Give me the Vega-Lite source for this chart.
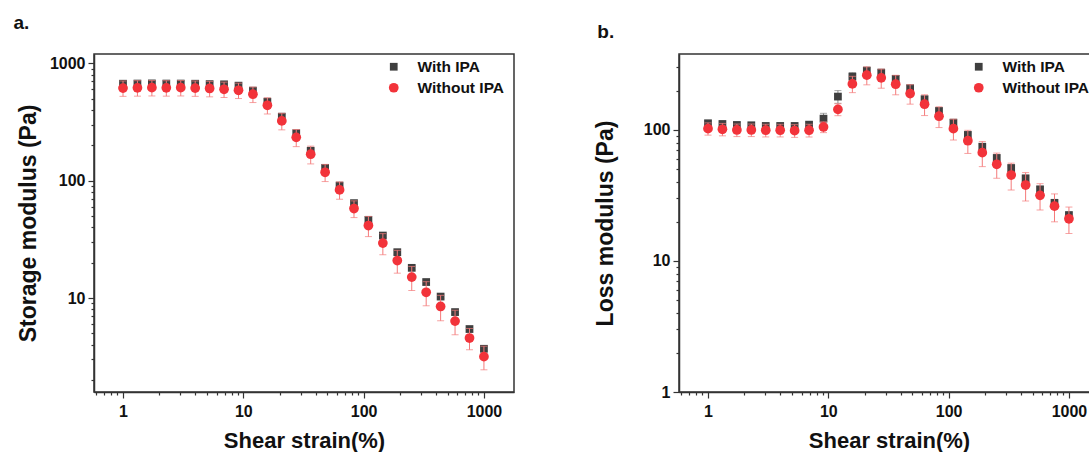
{
  "$schema": "https://vega.github.io/schema/vega-lite/v6.json",
  "padding": {"left": 12, "top": 13, "right": 0, "bottom": 0},
  "config": {
    "font": "Liberation Sans",
    "view": {"stroke": "#333", "strokeWidth": 1.5},
    "axis": {
      "grid": false, "domainColor": "#333", "domainWidth": 1.5, "tickColor": "#333", "tickWidth": 1.2,
      "labelFont": "Liberation Sans", "labelFontWeight": "bold", "labelFontSize": 16, "labelColor": "#111",
      "titleFont": "Liberation Sans", "titleFontWeight": "bold", "titleFontSize": 22, "titleColor": "#111",
      "labelFlush": false, "labelOverlap": false
    },
    "legend": {
      "labelFont": "Liberation Sans", "labelFontWeight": "bold", "labelFontSize": 15.5, "labelColor": "#111",
      "padding": 0, "rowPadding": 4, "labelOffset": 16, "symbolStrokeWidth": 0
    },
    "title": {"font": "Liberation Sans", "fontSize": 19, "fontWeight": "bold", "anchor": "start", "color": "#111", "offset": 21}
  },
  "datasets": {
    "storage": [
      {"strain": 1, "series": "With IPA", "modulus": 670, "err": 27},
      {"strain": 1.318, "series": "With IPA", "modulus": 672, "err": 27},
      {"strain": 1.738, "series": "With IPA", "modulus": 674, "err": 27},
      {"strain": 2.291, "series": "With IPA", "modulus": 672, "err": 27},
      {"strain": 3.02, "series": "With IPA", "modulus": 672, "err": 27},
      {"strain": 3.981, "series": "With IPA", "modulus": 670, "err": 27},
      {"strain": 5.248, "series": "With IPA", "modulus": 665, "err": 27},
      {"strain": 6.918, "series": "With IPA", "modulus": 662, "err": 26},
      {"strain": 9.12, "series": "With IPA", "modulus": 645, "err": 26},
      {"strain": 12.02, "series": "With IPA", "modulus": 585, "err": 23},
      {"strain": 15.85, "series": "With IPA", "modulus": 471, "err": 19},
      {"strain": 20.89, "series": "With IPA", "modulus": 351, "err": 14},
      {"strain": 27.54, "series": "With IPA", "modulus": 254, "err": 10},
      {"strain": 36.31, "series": "With IPA", "modulus": 180, "err": 7},
      {"strain": 47.86, "series": "With IPA", "modulus": 128.5, "err": 5},
      {"strain": 63.1, "series": "With IPA", "modulus": 90.9, "err": 3.6},
      {"strain": 83.18, "series": "With IPA", "modulus": 64.4, "err": 2.6},
      {"strain": 109.6, "series": "With IPA", "modulus": 46.4, "err": 1.9},
      {"strain": 144.5, "series": "With IPA", "modulus": 34.1, "err": 1.4},
      {"strain": 190.5, "series": "With IPA", "modulus": 24.6, "err": 1.0},
      {"strain": 251.2, "series": "With IPA", "modulus": 18.1, "err": 0.7},
      {"strain": 331.1, "series": "With IPA", "modulus": 13.7, "err": 0.55},
      {"strain": 436.5, "series": "With IPA", "modulus": 10.3, "err": 0.4},
      {"strain": 575.4, "series": "With IPA", "modulus": 7.6, "err": 0.3},
      {"strain": 758.6, "series": "With IPA", "modulus": 5.45, "err": 0.22},
      {"strain": 1000, "series": "With IPA", "modulus": 3.7, "err": 0.15},
      {"strain": 1, "series": "Without IPA", "modulus": 615, "err": 92},
      {"strain": 1.318, "series": "Without IPA", "modulus": 618, "err": 93},
      {"strain": 1.738, "series": "Without IPA", "modulus": 620, "err": 93},
      {"strain": 2.291, "series": "Without IPA", "modulus": 618, "err": 93},
      {"strain": 3.02, "series": "Without IPA", "modulus": 620, "err": 93},
      {"strain": 3.981, "series": "Without IPA", "modulus": 615, "err": 92},
      {"strain": 5.248, "series": "Without IPA", "modulus": 610, "err": 92},
      {"strain": 6.918, "series": "Without IPA", "modulus": 601, "err": 90},
      {"strain": 9.12, "series": "Without IPA", "modulus": 589, "err": 88},
      {"strain": 12.02, "series": "Without IPA", "modulus": 545, "err": 82},
      {"strain": 15.85, "series": "Without IPA", "modulus": 439, "err": 69},
      {"strain": 20.89, "series": "Without IPA", "modulus": 323, "err": 52},
      {"strain": 27.54, "series": "Without IPA", "modulus": 234, "err": 39},
      {"strain": 36.31, "series": "Without IPA", "modulus": 168, "err": 29},
      {"strain": 47.86, "series": "Without IPA", "modulus": 118, "err": 19.7},
      {"strain": 63.1, "series": "Without IPA", "modulus": 83.5, "err": 14},
      {"strain": 83.18, "series": "Without IPA", "modulus": 57.9, "err": 9.4},
      {"strain": 109.6, "series": "Without IPA", "modulus": 41.5, "err": 8.1},
      {"strain": 144.5, "series": "Without IPA", "modulus": 29.4, "err": 6.0},
      {"strain": 190.5, "series": "Without IPA", "modulus": 20.9, "err": 4.6},
      {"strain": 251.2, "series": "Without IPA", "modulus": 15.1, "err": 3.5},
      {"strain": 331.1, "series": "Without IPA", "modulus": 11.2, "err": 2.6},
      {"strain": 436.5, "series": "Without IPA", "modulus": 8.48, "err": 2.07},
      {"strain": 575.4, "series": "Without IPA", "modulus": 6.37, "err": 1.5},
      {"strain": 758.6, "series": "Without IPA", "modulus": 4.57, "err": 0.94},
      {"strain": 1000, "series": "Without IPA", "modulus": 3.17, "err": 0.72}
    ],
    "loss": [
      {"strain": 1, "series": "With IPA", "modulus": 112.5, "err": 5},
      {"strain": 1.318, "series": "With IPA", "modulus": 111.1, "err": 5},
      {"strain": 1.738, "series": "With IPA", "modulus": 109.2, "err": 5},
      {"strain": 2.291, "series": "With IPA", "modulus": 108.6, "err": 5},
      {"strain": 3.02, "series": "With IPA", "modulus": 107.3, "err": 5},
      {"strain": 3.981, "series": "With IPA", "modulus": 107.3, "err": 5},
      {"strain": 5.248, "series": "With IPA", "modulus": 107.3, "err": 5},
      {"strain": 6.918, "series": "With IPA", "modulus": 109.8, "err": 5},
      {"strain": 9.12, "series": "With IPA", "modulus": 122, "err": 12},
      {"strain": 12.02, "series": "With IPA", "modulus": 179.8, "err": 20},
      {"strain": 15.85, "series": "With IPA", "modulus": 255.6, "err": 18},
      {"strain": 20.89, "series": "With IPA", "modulus": 284, "err": 14},
      {"strain": 27.54, "series": "With IPA", "modulus": 274, "err": 13},
      {"strain": 36.31, "series": "With IPA", "modulus": 245.5, "err": 12},
      {"strain": 47.86, "series": "With IPA", "modulus": 208.4, "err": 10},
      {"strain": 63.1, "series": "With IPA", "modulus": 171.7, "err": 9},
      {"strain": 83.18, "series": "With IPA", "modulus": 139.7, "err": 7},
      {"strain": 109.6, "series": "With IPA", "modulus": 113.7, "err": 6},
      {"strain": 144.5, "series": "With IPA", "modulus": 91.6, "err": 5},
      {"strain": 190.5, "series": "With IPA", "modulus": 74.5, "err": 4},
      {"strain": 251.2, "series": "With IPA", "modulus": 61.1, "err": 3.5},
      {"strain": 331.1, "series": "With IPA", "modulus": 51.2, "err": 3},
      {"strain": 436.5, "series": "With IPA", "modulus": 42.7, "err": 2.5},
      {"strain": 575.4, "series": "With IPA", "modulus": 35.2, "err": 2},
      {"strain": 758.6, "series": "With IPA", "modulus": 27.8, "err": 1.6},
      {"strain": 1000, "series": "With IPA", "modulus": 22.4, "err": 1.3},
      {"strain": 1, "series": "Without IPA", "modulus": 102.3, "err": 11},
      {"strain": 1.318, "series": "Without IPA", "modulus": 101.2, "err": 11},
      {"strain": 1.738, "series": "Without IPA", "modulus": 100, "err": 11},
      {"strain": 2.291, "series": "Without IPA", "modulus": 100, "err": 11},
      {"strain": 3.02, "series": "Without IPA", "modulus": 99.5, "err": 11},
      {"strain": 3.981, "series": "Without IPA", "modulus": 99.5, "err": 11},
      {"strain": 5.248, "series": "Without IPA", "modulus": 98.8, "err": 11},
      {"strain": 6.918, "series": "Without IPA", "modulus": 99.5, "err": 11},
      {"strain": 9.12, "series": "Without IPA", "modulus": 105.4, "err": 10},
      {"strain": 12.02, "series": "Without IPA", "modulus": 143.5, "err": 15},
      {"strain": 15.85, "series": "Without IPA", "modulus": 224.7, "err": 32},
      {"strain": 20.89, "series": "Without IPA", "modulus": 262, "err": 41},
      {"strain": 27.54, "series": "Without IPA", "modulus": 249.8, "err": 41.5},
      {"strain": 36.31, "series": "Without IPA", "modulus": 223.5, "err": 38},
      {"strain": 47.86, "series": "Without IPA", "modulus": 189.4, "err": 32},
      {"strain": 63.1, "series": "Without IPA", "modulus": 157.2, "err": 28.4},
      {"strain": 83.18, "series": "Without IPA", "modulus": 127.3, "err": 23},
      {"strain": 109.6, "series": "Without IPA", "modulus": 102.3, "err": 18.5},
      {"strain": 144.5, "series": "Without IPA", "modulus": 82.8, "err": 16.6},
      {"strain": 190.5, "series": "Without IPA", "modulus": 67.1, "err": 14.6},
      {"strain": 251.2, "series": "Without IPA", "modulus": 54.7, "err": 11.9},
      {"strain": 331.1, "series": "Without IPA", "modulus": 45.3, "err": 10.5},
      {"strain": 436.5, "series": "Without IPA", "modulus": 38, "err": 9.3},
      {"strain": 575.4, "series": "Without IPA", "modulus": 31.7, "err": 7.2},
      {"strain": 758.6, "series": "Without IPA", "modulus": 26.2, "err": 6.3},
      {"strain": 1000, "series": "Without IPA", "modulus": 21, "err": 4.8}
    ]
  },
  "bounds": "flush",
  "spacing": 165,
  "resolve": {
    "scale": {"color": "independent", "shape": "independent", "size": "independent"},
    "legend": {"color": "independent", "shape": "independent", "size": "independent"}
  },
  "hconcat": [
    {
      "title": {"text": "a.", "dx": -4},
      "width": 420, "height": 338,
      "data": {"name": "storage"},
      "encoding": {
        "x": {"field": "strain", "type": "quantitative",
          "scale": {"type": "log", "domain": [0.574, 1778], "nice": false},
          "axis": {"title": "Shear strain(%)", "values": [0.6,0.7,0.8,0.9,1,2,3,4,5,6,7,8,9,10,20,30,40,50,60,70,80,90,100,200,300,400,500,600,700,800,900,1000],
            "labelExpr": "indexof([1,10,100,1000], datum.value) >= 0 ? toString(datum.value) : ''",
            "tickSize": {"condition": {"test": "indexof([1,10,100,1000], datum.value) >= 0", "value": 6}, "value": 3},
            "labelPadding": 5, "titlePadding": 11}},
        "y": {"field": "modulus", "type": "quantitative",
          "scale": {"type": "log", "domain": [1.585, 1200], "nice": false},
          "axis": {"title": "Storage modulus (Pa)", "titleFontSize": 23, "values": [2,3,4,5,6,7,8,9,10,20,30,40,50,60,70,80,90,100,200,300,400,500,600,700,800,900,1000],
            "labelExpr": "indexof([1,10,100,1000], datum.value) >= 0 ? toString(datum.value) : ''",
            "tickSize": {"condition": {"test": "indexof([1,10,100,1000], datum.value) >= 0", "value": 6}, "value": 3},
            "labelPadding": 3, "titlePadding": 9}}
      },
      "layer": [
        {"transform": [{"filter": "datum.series == 'With IPA'"}],
         "mark": {"type": "errorbar", "ticks": {"size": 7}, "color": "#888888", "thickness": 1},
         "encoding": {"yError": {"field": "err"}}},
        {"transform": [{"filter": "datum.series == 'With IPA'"}],
         "mark": {"type": "point", "filled": true, "opacity": 1},
         "encoding": {
           "color": {"field": "series", "type": "nominal", "scale": {"domain": ["With IPA", "Without IPA"], "range": ["#3f3f3f", "#f2333a"]}, "legend": {"title": null, "orient": "none", "legendX": 292, "legendY": 5}},
           "shape": {"field": "series", "type": "nominal", "scale": {"domain": ["With IPA", "Without IPA"], "range": ["square", "circle"]}, "legend": {"title": null, "orient": "none", "legendX": 292, "legendY": 5}},
           "size": {"field": "series", "type": "nominal", "scale": {"domain": ["With IPA", "Without IPA"], "range": [60, 95]}, "legend": {"title": null, "orient": "none", "legendX": 292, "legendY": 5}}}},
        {"transform": [{"filter": "datum.series == 'Without IPA'"}],
         "mark": {"type": "errorbar", "ticks": {"size": 7}, "color": "#f47a7a", "thickness": 1},
         "encoding": {"yError": {"field": "err"}}},
        {"transform": [{"filter": "datum.series == 'Without IPA'"}],
         "mark": {"type": "point", "filled": true, "opacity": 1},
         "encoding": {
           "color": {"field": "series", "type": "nominal", "scale": {"domain": ["With IPA", "Without IPA"], "range": ["#3f3f3f", "#f2333a"]}, "legend": {"title": null, "orient": "none", "legendX": 292, "legendY": 5}},
           "shape": {"field": "series", "type": "nominal", "scale": {"domain": ["With IPA", "Without IPA"], "range": ["square", "circle"]}, "legend": {"title": null, "orient": "none", "legendX": 292, "legendY": 5}},
           "size": {"field": "series", "type": "nominal", "scale": {"domain": ["With IPA", "Without IPA"], "range": [60, 95]}, "legend": {"title": null, "orient": "none", "legendX": 292, "legendY": 5}}}}
      ]
    },
    {
      "title": {"text": "b.", "dx": 3, "dy": 9},
      "width": 420, "height": 338,
      "data": {"name": "loss"},
      "encoding": {
        "x": {"field": "strain", "type": "quantitative",
          "scale": {"type": "log", "domain": [0.574, 1778], "nice": false},
          "axis": {"title": "Shear strain(%)", "values": [0.6,0.7,0.8,0.9,1,2,3,4,5,6,7,8,9,10,20,30,40,50,60,70,80,90,100,200,300,400,500,600,700,800,900,1000],
            "labelExpr": "indexof([1,10,100,1000], datum.value) >= 0 ? toString(datum.value) : ''",
            "tickSize": {"condition": {"test": "indexof([1,10,100,1000], datum.value) >= 0", "value": 6}, "value": 3},
            "labelPadding": 5, "titlePadding": 11}},
        "y": {"field": "modulus", "type": "quantitative",
          "scale": {"type": "log", "domain": [1, 380], "nice": false},
          "axis": {"title": "Loss modulus (Pa)", "titleFontSize": 23, "values": [1,2,3,4,5,6,7,8,9,10,20,30,40,50,60,70,80,90,100,200,300],
            "labelExpr": "indexof([1,10,100,1000], datum.value) >= 0 ? toString(datum.value) : ''",
            "tickSize": {"condition": {"test": "indexof([1,10,100,1000], datum.value) >= 0", "value": 6}, "value": 3},
            "labelPadding": 3, "titlePadding": 26}}
      },
      "layer": [
        {"transform": [{"filter": "datum.series == 'With IPA'"}],
         "mark": {"type": "errorbar", "ticks": {"size": 7}, "color": "#888888", "thickness": 1},
         "encoding": {"yError": {"field": "err"}}},
        {"transform": [{"filter": "datum.series == 'With IPA'"}],
         "mark": {"type": "point", "filled": true, "opacity": 1},
         "encoding": {
           "color": {"field": "series", "type": "nominal", "scale": {"domain": ["With IPA", "Without IPA"], "range": ["#3f3f3f", "#f2333a"]}, "legend": {"title": null, "orient": "none", "legendX": 292, "legendY": 5}},
           "shape": {"field": "series", "type": "nominal", "scale": {"domain": ["With IPA", "Without IPA"], "range": ["square", "circle"]}, "legend": {"title": null, "orient": "none", "legendX": 292, "legendY": 5}},
           "size": {"field": "series", "type": "nominal", "scale": {"domain": ["With IPA", "Without IPA"], "range": [60, 95]}, "legend": {"title": null, "orient": "none", "legendX": 292, "legendY": 5}}}},
        {"transform": [{"filter": "datum.series == 'Without IPA'"}],
         "mark": {"type": "errorbar", "ticks": {"size": 7}, "color": "#f47a7a", "thickness": 1},
         "encoding": {"yError": {"field": "err"}}},
        {"transform": [{"filter": "datum.series == 'Without IPA'"}],
         "mark": {"type": "point", "filled": true, "opacity": 1},
         "encoding": {
           "color": {"field": "series", "type": "nominal", "scale": {"domain": ["With IPA", "Without IPA"], "range": ["#3f3f3f", "#f2333a"]}, "legend": {"title": null, "orient": "none", "legendX": 292, "legendY": 5}},
           "shape": {"field": "series", "type": "nominal", "scale": {"domain": ["With IPA", "Without IPA"], "range": ["square", "circle"]}, "legend": {"title": null, "orient": "none", "legendX": 292, "legendY": 5}},
           "size": {"field": "series", "type": "nominal", "scale": {"domain": ["With IPA", "Without IPA"], "range": [60, 95]}, "legend": {"title": null, "orient": "none", "legendX": 292, "legendY": 5}}}}
      ]
    }
  ]
}
